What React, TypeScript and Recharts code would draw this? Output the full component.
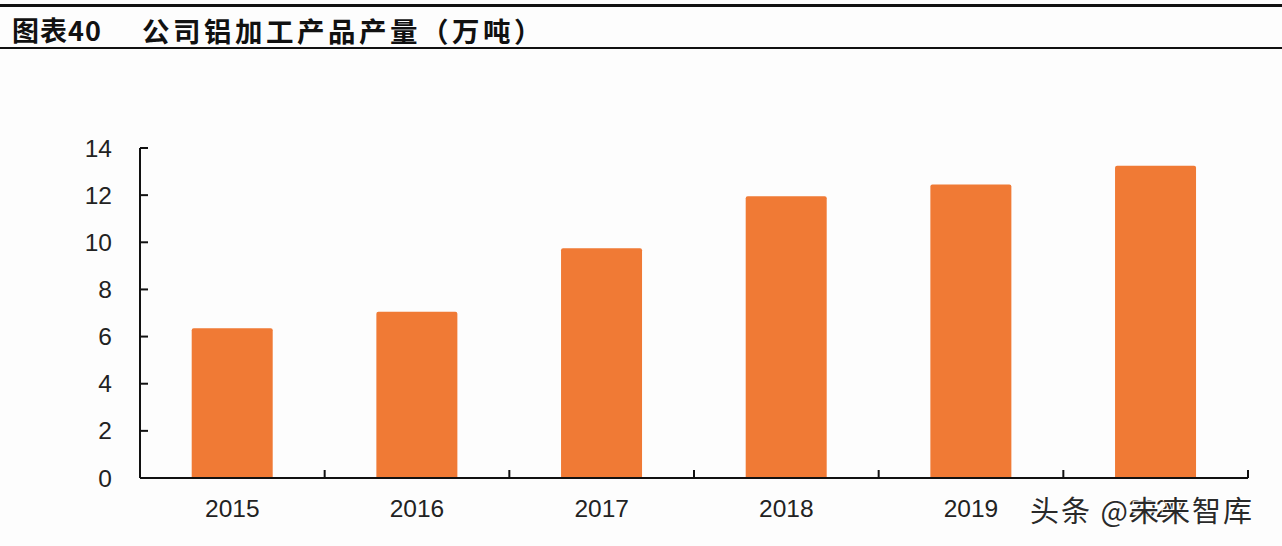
import React from "react";
import { Bar, BarChart, XAxis, YAxis } from "recharts";

const years = ["2015", "2016", "2017", "2018", "2019", "2020"];
const output = [6.35, 7.05, 9.75, 11.95, 12.45, 13.25];
const yTicks = [0, 2, 4, 6, 8, 10, 12, 14];

const data = years.map((year, i) => ({ year, value: output[i] }));

const AXIS_FONT = "Arial, 'Liberation Sans', sans-serif";
const CJK_FONT = "'Noto Sans CJK SC', 'Noto Sans', sans-serif";

// 刻度线朝内，且x轴刻度落在类目边界上
function XTick(props: any) {
  const { x, y, payload } = props;
  const edge = x + (payload.offset || 0);
  return (
    <g>
      <line x1={edge} x2={edge} y1={y - 8} y2={y} stroke="#111" strokeWidth={2} />
      <text
        x={x}
        y={y + 30}
        dy="0.35em"
        textAnchor="middle"
        fill="#222"
        fontSize={24.5}
        fontFamily={AXIS_FONT}
      >
        {payload.value}
      </text>
    </g>
  );
}

function YTick(props: any) {
  const { x, y, payload } = props;
  return (
    <g>
      <line x1={x} x2={x + 8} y1={y} y2={y} stroke="#111" strokeWidth={2} />
      <text
        x={x - 28}
        y={y}
        dy="0.35em"
        textAnchor="end"
        fill="#222"
        fontSize={24.5}
        fontFamily={AXIS_FONT}
      >
        {payload.value}
      </text>
    </g>
  );
}

export default function App() {
  return (
    <div
      style={{
        position: "absolute",
        left: 0,
        top: 0,
        width: 1282,
        height: 546,
        background: "#fdfdfd",
        overflow: "hidden",
      }}
    >
      {/* 标题栏 */}
      <div style={{ position: "absolute", left: 0, top: 4, width: 1282, height: 3, background: "#111" }} />
      <div
        style={{
          position: "absolute",
          left: 12,
          top: 14,
          fontFamily: CJK_FONT,
          fontWeight: 700,
          fontSize: 27,
          lineHeight: "32px",
          letterSpacing: 1,
          color: "#111",
          whiteSpace: "nowrap",
        }}
      >
        图表40
      </div>
      <div
        style={{
          position: "absolute",
          left: 142,
          top: 14,
          fontFamily: CJK_FONT,
          fontWeight: 700,
          fontSize: 27.5,
          lineHeight: "32px",
          letterSpacing: 3.5,
          color: "#111",
          whiteSpace: "nowrap",
        }}
      >
        公司铝加工产品产量（万吨）
      </div>
      <div style={{ position: "absolute", left: 0, top: 47, width: 1282, height: 2, background: "#111" }} />

      <div style={{ position: "absolute", left: 0, top: 0 }}>
        <BarChart
          width={1282}
          height={546}
          data={data}
          margin={{ top: 148, right: 34, bottom: 0, left: 0 }}
          barCategoryGap="28%"
        >
          <XAxis
            dataKey="year"
            height={68}
            axisLine={{ stroke: "#111", strokeWidth: 2 }}
            tickLine={false}
            tickSize={0}
            tickMargin={0}
            tick={<XTick />}
          />
          <YAxis
            domain={[0, 14]}
            ticks={yTicks}
            width={140}
            axisLine={{ stroke: "#111", strokeWidth: 2 }}
            tickLine={false}
            tickSize={0}
            tickMargin={0}
            tick={<YTick />}
          />
          <Bar dataKey="value" fill="#f07a35" radius={[2, 2, 0, 0]} isAnimationActive={false} />
        </BarChart>
      </div>

      {/* 水印 */}
      <div
        style={{
          position: "absolute",
          left: 1030,
          top: 492,
          fontFamily: CJK_FONT,
          fontSize: 29,
          lineHeight: "34px",
          letterSpacing: 2,
          color: "#2a2a2a",
          whiteSpace: "nowrap",
          textShadow: "0 0 2px #fff, 0 0 2px #fff, 1px 1px 1px #fff, -1px -1px 1px #fff",
        }}
      >
        头条 @未来智库
      </div>
    </div>
  );
}
